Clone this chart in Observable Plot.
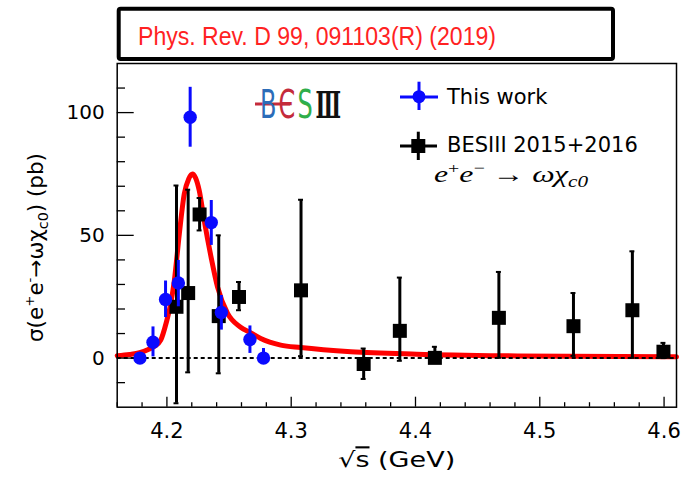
<!DOCTYPE html>
<html><head><meta charset="utf-8">
<script src="https://cdn.jsdelivr.net/npm/d3@7"></script>
<script src="https://cdn.jsdelivr.net/npm/@observablehq/plot@0.6"></script>
<style>
body{margin:0;background:#fff;}
#wrap{position:relative;width:684px;height:477px;overflow:hidden;font-family:"DejaVu Sans",sans-serif;}
#overlay{position:absolute;left:0;top:0;pointer-events:none;}
</style></head>
<body><div id="wrap"></div>
<script>
// ---- data ----
// "This work" (blue circles)
const thisWorkE  = [4.1783, 4.1888, 4.1989, 4.2092, 4.2187, 4.2357, 4.2438, 4.2668, 4.2777];
const thisWorkXS = [0, 6.5, 23.9, 30.6, 98.1, 55.2, 18.6, 7.6, 0];
const thisWorkLo = [0, 0.5, 16.5, 20.9, 85.9, 45.9, 11.4, 1.9, 0];
const thisWorkHi = [0, 12.7, 31.4, 39.8, 110.3, 64.2, 25.5, 13.1, 3.9];
// "BESIII 2015+2016" (black squares)
const besE  = [4.2077, 4.2171, 4.2263, 4.2417, 4.2580, 4.3079, 4.3583, 4.3874, 4.4156, 4.4671, 4.5271, 4.5745, 4.5995];
const besXS = [20.9, 26.5, 58.5, 17.1, 24.9, 27.6, -2.4, 11.1, 0.1, 16.4, 13.0, 19.5, 2.6];
const besLo = [-18.4, -5.8, 52.0, -6.2, 19.5, 0.8, -8.5, -1.1, -1.9, 0.1, 0.9, 0.1, 0.0];
const besHi = [70.3, 68.6, 65.2, 50.0, 31.0, 64.5, 3.9, 32.8, 4.6, 35.1, 26.5, 43.5, 6.2];
// fitted curve (red), sampled from the figure
const fitE  = [4.160, 4.170, 4.178, 4.185, 4.190, 4.195, 4.1995, 4.203, 4.206, 4.210, 4.214, 4.2175, 4.2206, 4.223, 4.226, 4.230, 4.2355, 4.2407, 4.2488, 4.259, 4.2675, 4.2755, 4.2916, 4.3076, 4.348, 4.401, 4.482, 4.610];
const fitXS = [1.0, 1.5, 2.2, 3.5, 4.8, 7.3, 14.5, 22.0, 31.7, 50.7, 67.0, 73.0, 75.0, 73.5, 68.3, 56.1, 41.2, 29.0, 18.2, 12.7, 10.3, 8.0, 5.3, 4.3, 2.6, 1.6, 0.9, 0.5];
// axes
const xMajorTicks = [4.2, 4.3, 4.4, 4.5, 4.6];
const xMinorTicks = [4.16, 4.18, 4.22, 4.24, 4.26, 4.28, 4.32, 4.34, 4.36, 4.38, 4.42, 4.44, 4.46, 4.48, 4.52, 4.54, 4.56, 4.58];
const yMajorTicks = [0, 50, 100];
const yMinorTicks = [-10, 10, 20, 30, 40, 60, 70, 80, 90, 110];

const blue = "#0a0aff";
const thisWork = thisWorkE.map((e, i) => ({x: e, y: thisWorkXS[i], lo: thisWorkLo[i], hi: thisWorkHi[i]}));
const bes = besE.map((e, i) => ({x: e, y: besXS[i], lo: besLo[i], hi: besHi[i]}));
const fit = fitE.map((e, i) => ({x: e, y: fitXS[i]}));

const W = 684, H = 477, mL = 116.7, mR = 8, mT = 63, mB = 70.3;
const fw = W - mL - mR, fh = H - mT - mB;

const chart = Plot.plot({
  width: W, height: H,
  marginLeft: mL, marginRight: mR, marginTop: mT, marginBottom: mB,
  style: {fontFamily: "DejaVu Sans, sans-serif", fontSize: "20px", color: "#000", background: "transparent"},
  x: {domain: [4.16, 4.61], label: null},
  y: {domain: [-20, 120], label: null},
  marks: [
    Plot.line(fit, {x: "x", y: "y", stroke: "#ff0000", strokeWidth: 5, curve: "monotone-x"}),
    Plot.ruleY([0], {stroke: "#000", strokeWidth: 2, strokeDasharray: "4 3"}),
    // BESIII 2015+2016
    Plot.ruleX(bes, {x: "x", y1: "lo", y2: "hi", stroke: "#000", strokeWidth: 3}),
    Plot.ruleY(bes, {y: "hi", x1: d => d.x - 0.002, x2: d => d.x + 0.002, stroke: "#000", strokeWidth: 2}),
    Plot.ruleY(bes, {y: "lo", x1: d => d.x - 0.002, x2: d => d.x + 0.002, stroke: "#000", strokeWidth: 2}),
    Plot.dot(bes, {x: "x", y: "y", symbol: "square", r: 7.9, fill: "#000", stroke: null}),
    // This work
    Plot.ruleX(thisWork, {x: "x", y1: "lo", y2: "hi", stroke: blue, strokeWidth: 3}),
    Plot.dot(thisWork, {x: "x", y: "y", r: 6.7, fill: blue, stroke: null}),
    // frame and inward ticks
    Plot.frame({stroke: "#000", strokeWidth: 1.5}),
    Plot.ruleY(yMajorTicks, {stroke: "#000", strokeWidth: 1.3, insetRight: fw - 17}),
    Plot.ruleY(yMinorTicks, {stroke: "#000", strokeWidth: 1.3, insetRight: fw - 8.3}),
    Plot.ruleX(xMajorTicks, {stroke: "#000", strokeWidth: 1.3, insetTop: fh - 10}),
    Plot.ruleX(xMinorTicks, {stroke: "#000", strokeWidth: 1.3, insetTop: fh - 4.5}),
    Plot.axisY({ticks: yMajorTicks, tickSize: 0, tickPadding: 12.5, fontSize: 20, label: null}),
    Plot.axisX({ticks: xMajorTicks, tickSize: 0, tickPadding: 16, fontSize: 21, tickFormat: d => d.toFixed(1), label: null})
  ]
});
const wrap = document.getElementById("wrap");
wrap.appendChild(chart);

// annotations: title box, logo, legend, axis titles
const ov = `
<svg id="overlay" width="${W}" height="${H}" xmlns="http://www.w3.org/2000/svg">
  <rect x="118.7" y="8.7" width="494.3" height="50.3" rx="2" fill="#fff" stroke="#000" stroke-width="4"/>
  <text x="138" y="45" font-family="Liberation Sans, Arial, sans-serif" font-size="26" fill="#f22" textLength="358" lengthAdjust="spacingAndGlyphs">Phys. Rev. D 99, 091103(R) (2019)</text>

  <g font-family="DejaVu Sans, sans-serif" font-size="24">
    <line x1="255" y1="104" x2="290" y2="104" stroke="#c42b3b" stroke-width="3"/>
    <text transform="translate(260,118) scale(1,1.6)" fill="#2b6cb8">B</text>
    <text transform="translate(278.5,118) scale(1,1.6)" fill="#c42b3b">Є</text>
    <text transform="translate(297.5,118) scale(1,1.6)" fill="#2fae4a">S</text>
    <text transform="translate(315.5,118) scale(1,1.8)" fill="#111" font-size="21" font-family="DejaVu Serif, serif" font-weight="bold">Ⅲ</text>
  </g>

  <line x1="400" y1="97" x2="438" y2="97" stroke="${blue}" stroke-width="3"/>
  <line x1="419" y1="81.7" x2="419" y2="110" stroke="${blue}" stroke-width="3"/>
  <circle cx="419" cy="96.7" r="6.5" fill="${blue}"/>
  <text x="447" y="103.5" font-size="21" font-family="DejaVu Sans, sans-serif">This work</text>

  <line x1="400" y1="146" x2="437" y2="146" stroke="#000" stroke-width="3"/>
  <line x1="418.3" y1="131.7" x2="418.3" y2="160" stroke="#000" stroke-width="3"/>
  <rect x="411.3" y="139" width="14" height="14" fill="#000"/>
  <text x="447" y="152" font-size="21" font-family="DejaVu Sans, sans-serif">BESIII 2015+2016</text>

  <text x="434" y="181.7" font-size="24" font-family="Liberation Serif, serif" textLength="154" lengthAdjust="spacingAndGlyphs"><tspan font-style="italic">e</tspan><tspan font-size="15" dy="-9">+</tspan><tspan font-style="italic" dy="9">e</tspan><tspan font-size="15" dy="-9">−</tspan><tspan dy="9"> → </tspan><tspan font-style="italic">ωχ</tspan><tspan font-style="italic" font-size="16" dy="5">c0</tspan></text>

  <text x="396.7" y="467.3" text-anchor="middle" font-size="21" font-family="DejaVu Sans, sans-serif" textLength="117" lengthAdjust="spacingAndGlyphs">√<tspan text-decoration="overline">s</tspan> (GeV)</text>

  <text transform="translate(43,247.5) rotate(-90)" text-anchor="middle" font-size="21" font-family="DejaVu Sans, sans-serif" textLength="189" lengthAdjust="spacingAndGlyphs">σ(e<tspan font-size="13" dy="-9">+</tspan><tspan dy="9">e</tspan><tspan font-size="13" dy="-9">-</tspan><tspan dy="9">→ωχ</tspan><tspan font-size="14" dy="5">c0</tspan><tspan dy="-5">) (pb)</tspan></text>
</svg>`;
wrap.insertAdjacentHTML("beforeend", ov);
</script>
</body></html>
